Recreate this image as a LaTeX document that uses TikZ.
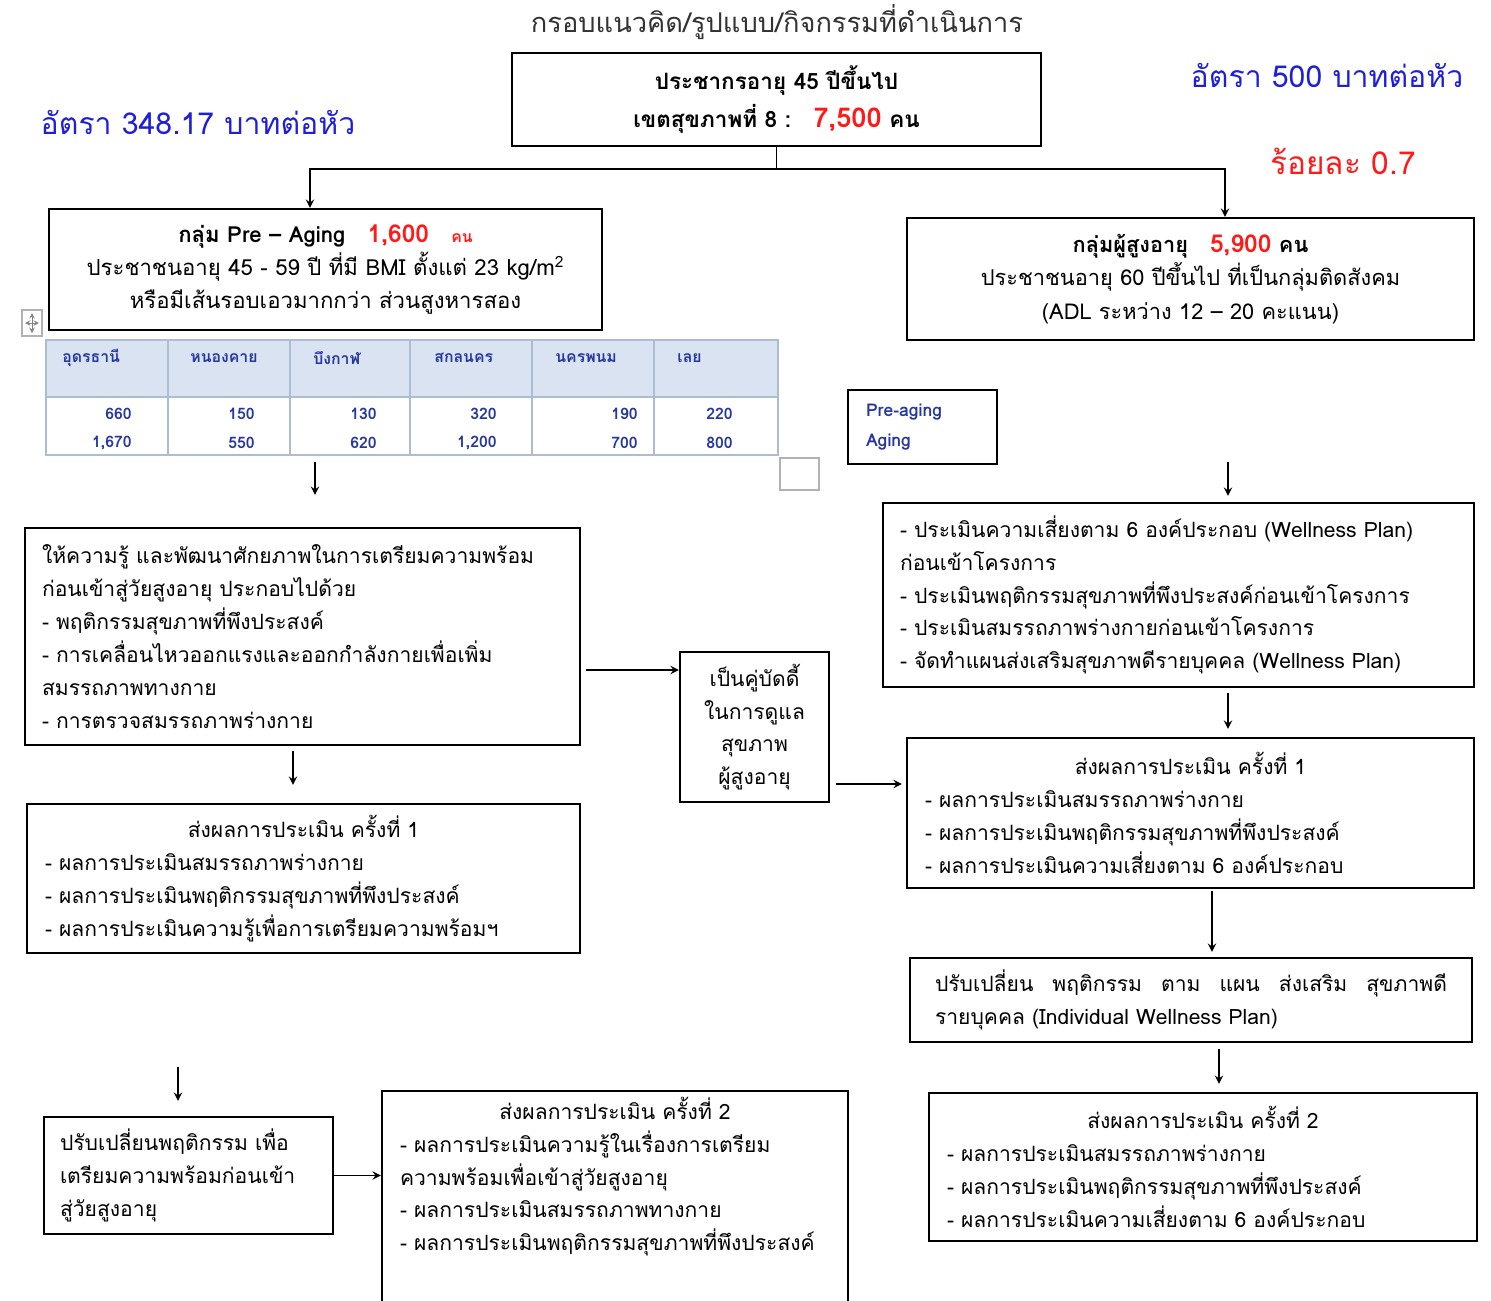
\documentclass[tikz,border=0pt]{standalone}
\usepackage{fontspec}
\setmainfont{Loma}[Script=Thai]
\usepackage{tikz}
\definecolor{ratecolor}{rgb}{0.12, 0.12, 0.85}
\definecolor{countcolor}{rgb}{1, 0.1, 0.1}
\definecolor{cellcolor}{rgb}{0.15, 0.22, 0.62}
\definecolor{gridcolor}{rgb}{0.68, 0.74, 0.82}
\definecolor{headcolor}{rgb}{0.85, 0.89, 0.95}
\usetikzlibrary{arrows,shapes,positioning}
\tikzset{
	block/.style={
		rectangle,
		line width=1.3pt,
		draw=black,
		fill=white,
		align=center,
		font=\fontsize{12}{18.7}\selectfont
	},
	listblock/.style={
		rectangle,
		line width=1.3pt,
		draw=black,
		fill=white,
		align=left,
		inner xsep=0.36cm,
		font=\fontsize{12}{18.7}\selectfont
	},
	arrow/.style={
		draw=black,
		line width=1.1pt,
		->,
		>=stealth
	},
	rate/.style={
		text=ratecolor,
		font=\fontsize{17.2}{20}\selectfont
	},
	tablecell/.style={
		text=cellcolor,
		font=\bfseries\fontsize{9}{10}\selectfont,
		inner sep=0pt
	},
	tableline/.style={
		draw=gridcolor,
		line width=0.9pt
	},
}

\begin{document}
\begin{tikzpicture}
	\useasboundingbox (0,0) rectangle (29.82,-26);
	% heading and rates
	\node (title) [font=\fontsize{15.5}{17}\selectfont, text=black!80] at (15.54,-0.44) {กรอบแนวคิด/รูปแบบ/กิจกรรมที่ดำเนินการ};
	\node (region) [block, font=\bfseries\fontsize{12.8}{18.7}\selectfont, minimum width=10.58cm, minimum height=1.86cm] at (15.53,-1.99)
		{ประชากรอายุ 45 ปีขึ้นไป\\[3pt] เขตสุขภาพที่ 8 :\quad{\color{countcolor}\fontsize{15.5}{18}\selectfont 7,500} คน};
	\node (rateleft) [rate] at (3.96,-2.44) {อัตรา 348.17 บาทต่อหัว};
	\node (rateright) [rate] at (26.54,-1.5) {อัตรา 500 บาทต่อหัว};
	\node (share) [rate, text=countcolor, font=\fontsize{18}{20}\selectfont] at (26.86,-3.22) {ร้อยละ 0.7};
	% the two groups
	\node (pregroup) [block, font=\fontsize{12.6}{19}\selectfont, minimum width=11.06cm, minimum height=2.42cm] at (6.51,-5.39)
		{{\bfseries กลุ่ม Pre -- Aging\quad{\color{countcolor}\fontsize{14}{18}\selectfont 1,600}\quad{\color{countcolor}\small คน}}\\
		ประชาชนอายุ 45 - 59 ปี ที่มี BMI ตั้งแต่ 23 kg/m\textsuperscript{2}\\
		หรือมีเส้นรอบเอวมากกว่า ส่วนสูงหารสอง};
	\node (eldgroup) [block, font=\fontsize{12.4}{19}\selectfont, minimum width=11.34cm, minimum height=2.44cm] at (23.81,-5.58)
		{{\bfseries กลุ่มผู้สูงอายุ\quad{\color{countcolor}\fontsize{14}{18}\selectfont 5,900} คน}\\
		ประชาชนอายุ 60 ปีขึ้นไป ที่เป็นกลุ่มติดสังคม\\
		(ADL ระหว่าง 12 -- 20 คะแนน)};
	\draw [arrow] (region.south) -- ++(0,-0.44) -| ([xshift=-0.31cm]pregroup.north);
	\draw [arrow] (region.south) -- ++(0,-0.44) -| ([xshift=0.69cm]eldgroup.north);
	% province table
	\fill [headcolor] (0.92,-6.8) rectangle (15.56,-7.94);
	\draw [tableline] (0.92,-6.8) rectangle (15.56,-9.1);
	\draw [tableline] (0.92,-7.94) -- (15.56,-7.94);
	\foreach \x in {3.36,5.80,8.20,10.64,13.08}
		\draw [tableline] (\x,-6.8) -- (\x,-9.1);
	\foreach \x/\prov/\n in {1.24/อุดรธานี/1, 3.80/หนองคาย/2, 6.26/บึงกาฬ/3, 8.68/สกลนคร/4, 11.10/นครพนม/5, 13.54/เลย/6}
		\node (prov\n) [tablecell, anchor=west] at (\x,-7.16) {\prov};
	\foreach \x/\pre/\old/\n in {2.64/660/{1,670}/1, 5.10/150/550/2, 7.54/130/620/3, 9.94/320/{1,200}/4, 12.76/190/700/5, 14.66/220/800/6} {
		\node (pre\n) [tablecell, anchor=east] at (\x,-8.28) {\pre};
		\node (old\n) [tablecell, anchor=east] at (\x,-8.86) {\old};
	}
	\draw [gray!60, line width=0.6pt] (0.44,-6.2) rectangle (0.84,-6.72);
	\draw [gray, <->, >=stealth] (0.5,-6.46) -- (0.78,-6.46);
	\draw [gray, <->, >=stealth] (0.64,-6.26) -- (0.64,-6.66);
	\draw [gray!60, line width=0.9pt] (15.6,-9.16) rectangle (16.38,-9.8);
	\node (legend) [listblock, text width=2.26cm, minimum height=1.48cm, text=cellcolor, font=\bfseries\fontsize{10}{17}\selectfont] at (18.45,-8.54)
		{Pre-aging\\Aging};
	% pre-aging track
	\node (lbox) [listblock, inner xsep=0.34cm, text width=10.42cm, minimum height=4.34cm] at (6.05,-12.73)
		{ให้ความรู้ และพัฒนาศักยภาพในการเตรียมความพร้อม\\
		ก่อนเข้าสู่วัยสูงอายุ ประกอบไปด้วย\\
		- พฤติกรรมสุขภาพที่พึงประสงค์\\
		- การเคลื่อนไหวออกแรงและออกกำลังกายเพื่อเพิ่ม\\
		สมรรถภาพทางกาย\\
		- การตรวจสมรรถภาพร่างกาย};
	\node (lres1) [listblock, text width=10.34cm, minimum height=2.98cm] at (6.07,-17.57)
		{\makebox[\linewidth]{ส่งผลการประเมิน ครั้งที่ 1}\\
		- ผลการประเมินสมรรถภาพร่างกาย\\
		- ผลการประเมินพฤติกรรมสุขภาพที่พึงประสงค์\\
		- ผลการประเมินความรู้เพื่อการเตรียมความพร้อมฯ};
	\node (lchange) [listblock, inner xsep=0.32cm, text width=5.14cm, minimum height=2.34cm] at (3.77,-23.51)
		{ปรับเปลี่ยนพฤติกรรม เพื่อ\\
		เตรียมความพร้อมก่อนเข้า\\
		สู่วัยสูงอายุ};
	\node (lres2) [listblock, anchor=north, text width=8.6cm] at (12.3,-21.8)
		{\makebox[\linewidth]{ส่งผลการประเมิน ครั้งที่ 2}\\
		- ผลการประเมินความรู้ในเรื่องการเตรียม\\
		ความพร้อมเพื่อเข้าสู่วัยสูงอายุ\\
		- ผลการประเมินสมรรถภาพทางกาย\\
		- ผลการประเมินพฤติกรรมสุขภาพที่พึงประสงค์\\
		\rule{0pt}{2.4cm}};
	\node (buddy) [block, minimum width=2.98cm, minimum height=3cm] at (15.09,-14.54)
		{เป็นคู่บัดดี้\\ในการดูแล\\สุขภาพ\\ผู้สูงอายุ};
	% elderly track
	\node (rplan) [listblock, inner xsep=0.34cm, text width=11.14cm, minimum height=3.68cm] at (23.57,-11.9)
		{- ประเมินความเสี่ยงตาม 6 องค์ประกอบ (Wellness Plan)\\
		ก่อนเข้าโครงการ\\
		- ประเมินพฤติกรรมสุขภาพที่พึงประสงค์ก่อนเข้าโครงการ\\
		- ประเมินสมรรถภาพร่างกายก่อนเข้าโครงการ\\
		- จัดทำแผนส่งเสริมสุขภาพดีรายบุคคล (Wellness Plan)};
	\node (rres1) [listblock, text width=10.62cm, minimum height=3cm] at (23.81,-16.26)
		{\makebox[\linewidth]{ส่งผลการประเมิน ครั้งที่ 1}\\
		- ผลการประเมินสมรรถภาพร่างกาย\\
		- ผลการประเมินพฤติกรรมสุขภาพที่พึงประสงค์\\
		- ผลการประเมินความเสี่ยงตาม 6 องค์ประกอบ};
	\node (rchange) [listblock, inner xsep=0.5cm, text width=10.24cm, minimum height=1.68cm] at (23.82,-20)
		{\makebox[\linewidth][s]{ปรับเปลี่ยน\hfill พฤติกรรม\hfill ตาม\hfill แผน\hfill ส่งเสริม\hfill สุขภาพดี}\\
		รายบุคคล (Individual Wellness Plan)};
	\node (rres2) [listblock, text width=10.24cm, minimum height=2.96cm] at (24.06,-23.34)
		{\makebox[\linewidth]{ส่งผลการประเมิน ครั้งที่ 2}\\
		- ผลการประเมินสมรรถภาพร่างกาย\\
		- ผลการประเมินพฤติกรรมสุขภาพที่พึงประสงค์\\
		- ผลการประเมินความเสี่ยงตาม 6 องค์ประกอบ};
	% connectors
	\coordinate (tablefoot) at (6.3,-9.24);
	\coordinate (planhead) at (24.56,-9.24);
	\coordinate (changehead) at (3.56,-21.34);
	\draw [arrow, shorten >=0.64cm] (tablefoot) -- (tablefoot |- lbox.north);
	\draw [arrow, shorten >=0.12cm] (planhead) -- (planhead |- rplan.north);
	\draw [arrow, shorten <=0.1cm] ([yshift=-0.67cm]lbox.east) -- ([yshift=-0.67cm]lbox.east -| buddy.west);
	\draw [arrow, shorten <=0.12cm, shorten >=0.08cm] ([yshift=-1.14cm]buddy.east) -- ([yshift=-1.14cm]buddy.east -| rres1.west);
	\draw [arrow, shorten <=0.1cm, shorten >=0.16cm] ([xshift=0.99cm]rplan.south) -- ([xshift=0.99cm]rplan.south |- rres1.north);
	\draw [arrow, shorten <=0.04cm, shorten >=0.1cm] ([xshift=0.43cm]rres1.south) -- ([xshift=0.43cm]rres1.south |- rchange.north);
	\draw [arrow, shorten <=0.12cm, shorten >=0.16cm] ([xshift=0.56cm]rchange.south) -- ([xshift=0.56cm]rchange.south |- rres2.north);
	\draw [arrow, shorten <=0.1cm, shorten >=0.36cm] ([xshift=-0.19cm]lbox.south) -- ([xshift=-0.19cm]lbox.south |- lres1.north);
	\draw [arrow, shorten >=0.3cm] (changehead) -- (changehead |- lchange.north);
	\draw [arrow] (lchange.east) -- (lchange.east -| lres2.west);
\end{tikzpicture}
\end{document}
